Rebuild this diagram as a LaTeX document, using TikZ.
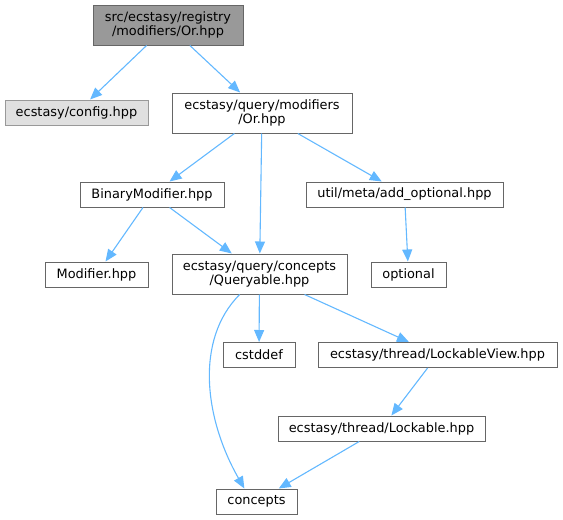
\documentclass[tikz,border=0pt]{standalone}
\usepackage{fontspec}
\setmainfont{DejaVu Sans}
\usetikzlibrary{arrows.meta}
\definecolor{edgeblue}{HTML}{63B8FF}
\definecolor{boxline}{HTML}{666666}
\definecolor{topgray}{HTML}{999999}
\definecolor{cfggray}{HTML}{E0E0E0}
\tikzset{
    fileN/.style={draw=boxline, fill=white, line width=1pt, inner sep=0pt, align=center,
        font=\fontsize{12.9}{14.5}\selectfont, minimum height=25pt},
    fileT/.style={fileN, minimum height=40pt},
    edgeG/.style={draw=edgeblue, line width=1.1pt, -{Triangle[length=12pt,width=10pt]}}
}
\begin{document}
\begin{tikzpicture}[x=1pt, y=-1pt]
    \useasboundingbox (0,0) rectangle (563,520);
    % files
    \node[fileT, fill=topgray, minimum width=150pt] (src) at (168,25) {src/ecstasy/registry\\/modifiers/Or.hpp};
    \node[fileN, fill=cfggray, draw=topgray, minimum width=143pt] (cfg) at (76.5,112.5) {ecstasy/config.hpp};
    \node[fileT, minimum width=180pt] (orh) at (262,113) {ecstasy/query/modifiers\\/Or.hpp};
    \node[fileN, minimum width=144pt] (bin) at (152,194.5) {BinaryModifier.hpp};
    \node[fileN, minimum width=197pt] (addopt) at (404.5,194.5) {util/meta/add\_optional.hpp};
    \node[fileN, minimum width=103pt] (mod) at (96.5,274.5) {Modifier.hpp};
    \node[fileT, minimum width=175pt] (qry) at (259.5,274) {ecstasy/query/concepts\\/Queryable.hpp};
    \node[fileN, minimum width=75pt] (opt) at (408.5,274.5) {optional};
    \node[fileN, minimum width=72pt] (cst) at (259,355) {cstddef};
    \node[fileN, minimum width=239pt] (lview) at (437.5,355) {ecstasy/thread/LockableView.hpp};
    \node[fileN, minimum width=207pt] (lock) at (381.5,428.5) {ecstasy/thread/Lockable.hpp};
    \node[fileN, minimum width=81pt] (conc) at (256.5,501.5) {concepts};
    % includes
    \draw[edgeG] (src) -- (cfg);
    \draw[edgeG] (src) -- (orh);
    \draw[edgeG] (orh) -- (bin);
    \draw[edgeG] (orh) -- (qry);
    \draw[edgeG] (orh) -- (addopt);
    \draw[edgeG] (bin) -- (mod);
    \draw[edgeG] (bin) -- (qry);
    \draw[edgeG] (addopt) -- (opt);
    \draw[edgeG] (qry) -- (cst);
    \draw[edgeG] (qry) -- (lview);
    \draw[edgeG] (qry.226) .. controls +(-45,45) and +(-40,-70) .. (conc.133);
    \draw[edgeG] (lview) -- (lock);
    \draw[edgeG] (lock) -- (conc);
\end{tikzpicture}
\end{document}
